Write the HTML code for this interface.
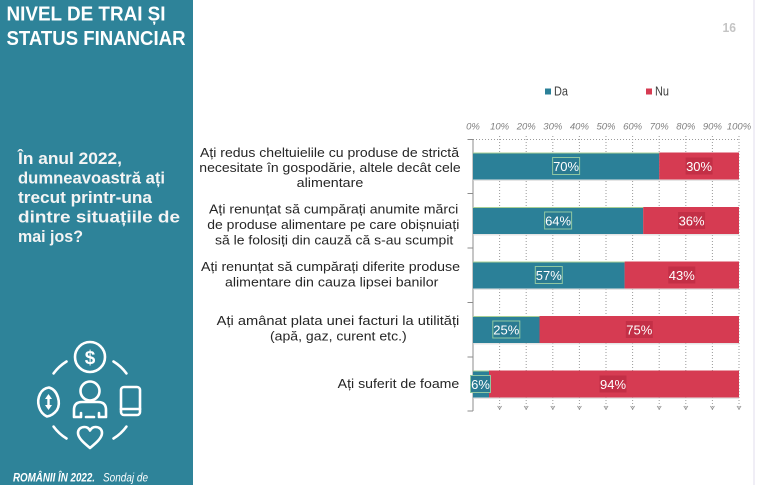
<!DOCTYPE html>
<html><head><meta charset="utf-8"><style>
html,body{margin:0;padding:0;background:#fff;}
svg{display:block;}
text{font-family:"Liberation Sans","DejaVu Sans",sans-serif;}
</style></head><body>
<svg width="777" height="485" viewBox="0 0 777 485" xmlns="http://www.w3.org/2000/svg">
<rect x="0" y="0" width="777" height="485" fill="#ffffff"/>
<!-- sidebar -->
<rect x="0" y="0" width="193" height="485" fill="#2e8399"/>
<text x="6.5" y="20.5" font-size="20" font-weight="bold" fill="#ffffff" textLength="159" lengthAdjust="spacingAndGlyphs">NIVEL DE TRAI ȘI</text>
<text x="6.5" y="45" font-size="20" font-weight="bold" fill="#ffffff" textLength="179" lengthAdjust="spacingAndGlyphs">STATUS FINANCIAR</text>

<g font-size="16.5" font-weight="bold" fill="#f4f4f4">
<text x="18" y="164" textLength="104" lengthAdjust="spacingAndGlyphs">În anul 2022,</text>
<text x="18" y="183.5" textLength="147" lengthAdjust="spacingAndGlyphs">dumneavoastră ați</text>
<text x="18" y="203" textLength="134" lengthAdjust="spacingAndGlyphs">trecut printr-una</text>
<text x="18" y="222.5" textLength="162" lengthAdjust="spacingAndGlyphs">dintre situațiile de</text>
<text x="18" y="242" textLength="65" lengthAdjust="spacingAndGlyphs">mai jos?</text>
</g>

<!-- icon -->
<g stroke="#ffffff" stroke-width="2.6" fill="none" stroke-linecap="round" stroke-linejoin="round">
<circle cx="90" cy="357" r="15"/>
<path d="M 53.6 373.4 A 45 45 0 0 1 66.5 361.5"/>
<path d="M 113.5 361.5 A 45 45 0 0 1 126.4 373.4"/>
<path d="M 126.4 426.6 A 45 45 0 0 1 113.5 438.5"/>
<path d="M 66.5 438.5 A 45 45 0 0 1 53.6 426.6"/>
<circle cx="90" cy="391" r="9.5"/>
<path d="M 81 417 H 74 V 410 Q 74 402 82 402 H 98 Q 106 402 106 410 V 417 H 99 M 81 417 V 413 M 99 417 V 413 M 86 417 H 94"/>
<path d="M 90 448 C 84 443, 78 438, 78 433 C 78 429, 81 427, 84.5 427 C 87 427, 89 428.5, 90 430.5 C 91 428.5, 93 427, 95.5 427 C 99 427, 102 429, 102 433 C 102 438, 96 443, 90 448 Z"/>
<path d="M 49 387.5 C 58 390, 61 403, 57 410 C 54 414, 50 416, 47 416.5 C 39 413, 36 402, 40 394 C 42 390, 45 388, 49 387.5 Z"/>
<rect x="121" y="387" width="19" height="28" rx="3"/>
<path d="M 121 409 H 140"/>
</g>
<g fill="#ffffff">
<path d="M 48.5 394 L 45 399 L 52 399 Z"/>
<path d="M 48.5 410 L 45 405 L 52 405 Z"/>
<rect x="47.3" y="398" width="2.4" height="8"/>
</g>
<text x="90" y="364" font-size="19" font-weight="bold" fill="#ffffff" text-anchor="middle">$</text>

<text x="13" y="481.5" font-size="11.5" font-weight="bold" font-style="italic" fill="#ffffff" textLength="82" lengthAdjust="spacingAndGlyphs">ROMÂNII ÎN 2022.</text>
<text x="103" y="481.5" font-size="11.5" font-style="italic" fill="#ffffff" textLength="45" lengthAdjust="spacingAndGlyphs">Sondaj de</text>

<!-- page number and right line -->
<text x="722.5" y="32" font-size="13" font-weight="bold" fill="#c4c4c4" textLength="13.5" lengthAdjust="spacingAndGlyphs">16</text>
<rect x="753" y="0" width="2" height="485" fill="#f0eef6"/>

<!-- legend -->
<rect x="545" y="88.5" width="6" height="6" fill="#2b8098"/>
<text x="554" y="95.5" font-size="12.5" fill="#404040" textLength="14" lengthAdjust="spacingAndGlyphs">Da</text>
<rect x="646" y="88.5" width="6" height="6" fill="#d63b52"/>
<text x="655" y="95.5" font-size="12.5" fill="#404040" textLength="14" lengthAdjust="spacingAndGlyphs">Nu</text>

<!-- axis tick labels -->
<g font-size="9.5" font-style="italic" fill="#7f7f7f" text-anchor="middle">
<text x="473" y="129.5">0%</text>
<text x="499.6" y="129.5">10%</text>
<text x="526.2" y="129.5">20%</text>
<text x="552.8" y="129.5">30%</text>
<text x="579.4" y="129.5">40%</text>
<text x="606" y="129.5">50%</text>
<text x="632.6" y="129.5">60%</text>
<text x="659.2" y="129.5">70%</text>
<text x="685.8" y="129.5">80%</text>
<text x="712.4" y="129.5">90%</text>
<text x="739" y="129.5">100%</text>
</g>

<!-- gridlines -->
<g stroke="#9a9a9a" stroke-width="1" stroke-dasharray="1,2">
<line x1="470" y1="139.5" x2="740" y2="139.5"/>
<line x1="499.6" y1="136" x2="499.6" y2="410"/>
<line x1="526.2" y1="136" x2="526.2" y2="410"/>
<line x1="552.8" y1="136" x2="552.8" y2="410"/>
<line x1="579.4" y1="136" x2="579.4" y2="410"/>
<line x1="606" y1="136" x2="606" y2="410"/>
<line x1="632.6" y1="136" x2="632.6" y2="410"/>
<line x1="659.2" y1="136" x2="659.2" y2="410"/>
<line x1="685.8" y1="136" x2="685.8" y2="410"/>
<line x1="712.4" y1="136" x2="712.4" y2="410"/>
<line x1="739" y1="136" x2="739" y2="410"/>
</g>
<g stroke="#9a9a9a" stroke-width="1" fill="none">
<path d="M 497.6 406 L 499.6 409 L 501.6 406"/>
<path d="M 524.2 406 L 526.2 409 L 528.2 406"/>
<path d="M 550.8 406 L 552.8 409 L 554.8 406"/>
<path d="M 577.4 406 L 579.4 409 L 581.4 406"/>
<path d="M 604 406 L 606 409 L 608 406"/>
<path d="M 630.6 406 L 632.6 409 L 634.6 406"/>
<path d="M 657.2 406 L 659.2 409 L 661.2 406"/>
<path d="M 683.8 406 L 685.8 409 L 687.8 406"/>
<path d="M 710.4 406 L 712.4 409 L 714.4 406"/>
<path d="M 737 406 L 739 409 L 741 406"/>
</g>
<!-- left axis -->
<g stroke="#8c8c8c" stroke-width="1">
<line x1="473" y1="139" x2="473" y2="411"/>
<line x1="467.5" y1="139.5" x2="473" y2="139.5"/>
<line x1="467.5" y1="193.5" x2="473" y2="193.5"/>
<line x1="467.5" y1="248" x2="473" y2="248"/>
<line x1="467.5" y1="302.5" x2="473" y2="302.5"/>
<line x1="467.5" y1="357" x2="473" y2="357"/>
<line x1="467.5" y1="411" x2="473" y2="411"/>
</g>

<!-- bars -->
<g>
<rect x="473" y="153.5" width="266" height="27.5" fill="#d4d4d4" opacity="0.6"/>
<rect x="473" y="208" width="266" height="27.5" fill="#d4d4d4" opacity="0.6"/>
<rect x="473" y="262.5" width="266" height="27.5" fill="#d4d4d4" opacity="0.6"/>
<rect x="473" y="317" width="266" height="27.5" fill="#d4d4d4" opacity="0.6"/>
<rect x="473" y="371.5" width="266" height="27.5" fill="#d4d4d4" opacity="0.6"/>

<rect x="473" y="152.5" width="186.2" height="27" fill="#2b8098"/>
<rect x="659.2" y="152.5" width="79.8" height="27" fill="#d63b52"/>
<rect x="473" y="207" width="170.2" height="27" fill="#2b8098"/>
<rect x="643.2" y="207" width="95.8" height="27" fill="#d63b52"/>
<rect x="473" y="261.5" width="151.6" height="27" fill="#2b8098"/>
<rect x="624.6" y="261.5" width="114.4" height="27" fill="#d63b52"/>
<rect x="473" y="316" width="66.5" height="27" fill="#2b8098"/>
<rect x="539.5" y="316" width="199.5" height="27" fill="#d63b52"/>
<rect x="473" y="370.5" width="16" height="27" fill="#2b8098"/>
<rect x="489" y="370.5" width="250" height="27" fill="#d63b52"/>
</g>
<g stroke="#a9cf95" stroke-width="1">
<line x1="473" y1="153" x2="659.2" y2="153"/>
<line x1="473" y1="207.5" x2="643.2" y2="207.5"/>
<line x1="473" y1="262" x2="624.6" y2="262"/>
<line x1="473" y1="316.5" x2="539.5" y2="316.5"/>
<line x1="473" y1="371" x2="489" y2="371"/>
</g>

<!-- value labels -->
<g stroke="#8fc7a2" stroke-width="1" fill="#2a7a91">
<rect x="552.6" y="157.5" width="27" height="17"/>
<rect x="544.6" y="212" width="27" height="17"/>
<rect x="535.3" y="266.5" width="27" height="17"/>
<rect x="492.8" y="321" width="27" height="17"/>
<rect x="470.5" y="375.5" width="20" height="17"/>
</g>
<g fill="#c32f46">
<rect x="685.6" y="157.5" width="27" height="17"/>
<rect x="678.1" y="212" width="27" height="17"/>
<rect x="668.3" y="266.5" width="27" height="17"/>
<rect x="625.8" y="321" width="27" height="17"/>
<rect x="599.5" y="375.5" width="27" height="17"/>
</g>
<g font-size="13" fill="#ffffff" text-anchor="middle">
<text x="566.1" y="170.8">70%</text>
<text x="699.1" y="170.8">30%</text>
<text x="558.1" y="225.3">64%</text>
<text x="691.6" y="225.3">36%</text>
<text x="548.8" y="279.8">57%</text>
<text x="681.8" y="279.8">43%</text>
<text x="506.3" y="334.3">25%</text>
<text x="639.3" y="334.3">75%</text>
<text x="480.5" y="388.8">6%</text>
<text x="613" y="388.8">94%</text>
</g>

<!-- category labels -->
<g font-size="13" fill="#262626">
<text x="200" y="157" textLength="259" lengthAdjust="spacingAndGlyphs">Ați redus cheltuielile cu produse de strictă</text>
<text x="199.3" y="172" textLength="261.4" lengthAdjust="spacingAndGlyphs">necesitate în gospodărie, altele decât cele</text>
<text x="296.7" y="187" textLength="66.6" lengthAdjust="spacingAndGlyphs">alimentare</text>

<text x="209" y="213.3" textLength="249.3" lengthAdjust="spacingAndGlyphs">Ați renunțat să cumpărați anumite mărci</text>
<text x="207.3" y="228.8" textLength="252" lengthAdjust="spacingAndGlyphs">de produse alimentare pe care obișnuiați</text>
<text x="215" y="244.3" textLength="238.3" lengthAdjust="spacingAndGlyphs">să le folosiți din cauză că s-au scumpit</text>

<text x="201" y="271" textLength="259" lengthAdjust="spacingAndGlyphs">Ați renunțat să cumpărați diferite produse</text>
<text x="225" y="286.5" textLength="213.3" lengthAdjust="spacingAndGlyphs">alimentare din cauza lipsei banilor</text>

<text x="216.7" y="325" textLength="242.6" lengthAdjust="spacingAndGlyphs">Ați amânat plata unei facturi la utilități</text>
<text x="270" y="340.7" textLength="136.7" lengthAdjust="spacingAndGlyphs">(apă, gaz, curent etc.)</text>

<text x="337.7" y="388" textLength="121.6" lengthAdjust="spacingAndGlyphs">Ați suferit de foame</text>
</g>
</svg>
</body></html>
